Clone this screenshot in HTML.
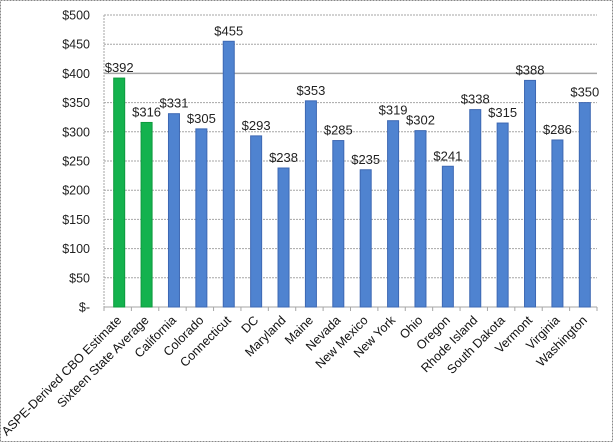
<!DOCTYPE html>
<html><head><style>body{margin:0;background:#fff}svg{display:block}</style></head><body>
<svg width="613" height="442" xmlns="http://www.w3.org/2000/svg" font-family="Liberation Sans, sans-serif">
<rect x="0.5" y="0.5" width="612" height="441" fill="#fff" stroke="#888" stroke-dasharray="2,1"/>
<script>
const svg=document.querySelector('svg');
const NS='http://www.w3.org/2000/svg';
function el(t,a,txt){const e=document.createElementNS(NS,t);for(const k in a)e.setAttribute(k,a[k]);if(txt!=null)e.textContent=txt;svg.appendChild(e);return e;}
const x0=104,x1=597,y0=307,y500=15;
const ys=v=>y0-(y0-y500)*v/500;
for(let v=0;v<=500;v+=50){
  const y=ys(v);
  if(v>0) el('line',{x1:x0,x2:x1,y1:y,y2:y,stroke:'#a6a6a6','stroke-dasharray':v==400?'none':'2,1','stroke-width':v==400?1.5:1});
  el('text',{x:90,y:y+4.5,'text-anchor':'end','font-size':12.5,fill:'#222'},v==0?'$-':'$'+v);
}
el('line',{x1:x0,x2:x0,y1:y500,y2:y0,stroke:'#a6a6a6','stroke-dasharray':'2,1'});
el('line',{x1:x0,x2:x1,y1:y0,y2:y0,stroke:'#a6a6a6'});
const d=[["ASPE-Derived CBO Estimate",392],["Sixteen State Average",316],["California",331],["Colorado",305],["Connecticut",455],["DC",293],["Maryland",238],["Maine",353],["Nevada",285],["New Mexico",235],["New York",319],["Ohio",302],["Oregon",241],["Rhode Island",338],["South Dakota",315],["Vermont",388],["Virginia",286],["Washington",350]];
const w=(x1-x0)/18;
d.forEach((c,i)=>{
  const tx=x0+w*i;
  el('line',{x1:tx,x2:tx,y1:y0,y2:y0+4,stroke:'#a6a6a6'});
  const cx=tx+w/2+1.5;
  const g=i<2;
  el('rect',{x:cx-5.5,y:ys(c[1]),width:11,height:y0-ys(c[1]),fill:g?'#14b24e':'#4f83d0',stroke:g?'#0e9a3e':'#3d68b3','stroke-width':1});
  el('text',{x:cx,y:ys(c[1])-6,'text-anchor':'middle','font-size':13,fill:'#222'},'$'+c[1]);
  el('text',{x:cx+3,y:y0+14,'text-anchor':'end','font-size':12.5,fill:'#111',transform:`rotate(-45 ${cx+3} ${y0+14})`},c[0]);
});
el('line',{x1:x1,x2:x1,y1:y0,y2:y0+4,stroke:'#a6a6a6'});
</script>
</svg>
</body></html>
